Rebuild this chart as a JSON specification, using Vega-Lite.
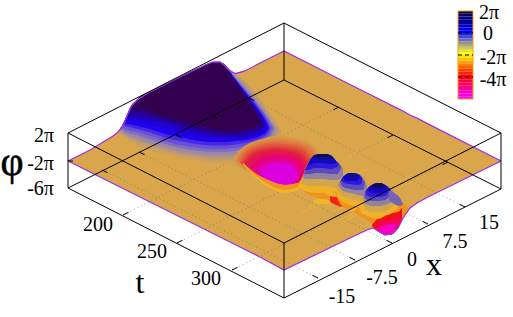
{"width":513,"height":317,"padding":0,"autosize":{"type":"fit","contains":"padding"},"background":"white","config":{"view":{"stroke":null}},
"resolve":{"scale":{"color":"independent"}},
"datasets":{
"surface":[{"g":"s","p":-2,"u":68,"v":161,"w":161},{"g":"s","p":-2,"u":90,"v":150,"w":172},{"g":"s","p":-2,"u":113,"v":136,"w":183.5},{"g":"s","p":-2,"u":118,"v":132,"w":186},{"g":"s","p":-2,"u":123,"v":126,"w":188.5},{"g":"s","p":-2,"u":127,"v":116,"w":190.5},{"g":"s","p":-2,"u":131,"v":107,"w":192.5},{"g":"s","p":-2,"u":137,"v":100,"w":195.5},{"g":"s","p":-2,"u":145,"v":95,"w":199.5},{"g":"s","p":-2,"u":150,"v":92,"w":202},{"g":"s","p":-2,"u":180,"v":77,"w":217},{"g":"s","p":-2,"u":205,"v":65,"w":229.5},{"g":"s","p":-2,"u":213,"v":62,"w":233.5},{"g":"s","p":-2,"u":220,"v":62,"w":237},{"g":"s","p":-2,"u":225,"v":66,"w":239.5},{"g":"s","p":-2,"u":231,"v":72,"w":242.5},{"g":"s","p":-2,"u":236,"v":73.5,"w":245},{"g":"s","p":-2,"u":245,"v":71,"w":249.5},{"g":"s","p":-2,"u":260,"v":63,"w":257},{"g":"s","p":-2,"u":284,"v":51,"w":270},{"g":"s","p":-2,"u":350,"v":84.5,"w":238},{"g":"s","p":-2,"u":367,"v":93,"w":230},{"g":"s","p":-2,"u":373,"v":96,"w":228},{"g":"s","p":-2,"u":380,"v":99.6,"w":232},{"g":"s","p":-2,"u":385,"v":102,"w":235},{"g":"s","p":-2,"u":392,"v":105.6,"w":234},{"g":"s","p":-2,"u":398,"v":108.7,"w":228},{"g":"s","p":-2,"u":403,"v":111,"w":218},{"g":"s","p":-2,"u":410,"v":115,"w":208},{"g":"s","p":-2,"u":417,"v":118.2,"w":203},{"g":"s","p":-2,"u":428,"v":123.8,"w":197},{"g":"s","p":-2,"u":501,"v":161,"w":161}],
"smooth":[
{"g":"a00","p":-1.75,"u":118,"v":132,"w":132},{"g":"a00","p":-1.75,"u":125,"v":122,"w":138},{"g":"a00","p":-1.75,"u":137,"v":100,"w":145},{"g":"a00","p":-1.75,"u":150,"v":92,"w":150},{"g":"a00","p":-1.75,"u":165,"v":84.5,"w":154},{"g":"a00","p":-1.75,"u":180,"v":77,"w":158},{"g":"a00","p":-1.75,"u":200,"v":67.5,"w":161},{"g":"a00","p":-1.75,"u":215,"v":62,"w":163},{"g":"a00","p":-1.75,"u":226,"v":67,"w":163},{"g":"a00","p":-1.75,"u":236,"v":74,"w":162},{"g":"a00","p":-1.75,"u":246,"v":82,"w":160},{"g":"a00","p":-1.75,"u":256,"v":93,"w":157},{"g":"a00","p":-1.75,"u":266,"v":107,"w":152},{"g":"a00","p":-1.75,"u":274,"v":118,"w":145},{"g":"a00","p":-1.75,"u":282,"v":132,"w":132},
{"g":"a01","p":-1.5,"u":118,"v":132,"w":132},{"g":"a01","p":-1.5,"u":125,"v":122,"w":136},{"g":"a01","p":-1.5,"u":137,"v":100,"w":142},{"g":"a01","p":-1.5,"u":150,"v":92,"w":147},{"g":"a01","p":-1.5,"u":165,"v":84.5,"w":151},{"g":"a01","p":-1.5,"u":180,"v":77,"w":155},{"g":"a01","p":-1.5,"u":200,"v":67.5,"w":158},{"g":"a01","p":-1.5,"u":215,"v":62,"w":160},{"g":"a01","p":-1.5,"u":225,"v":66,"w":160},{"g":"a01","p":-1.5,"u":235,"v":73,"w":160},{"g":"a01","p":-1.5,"u":245,"v":82,"w":158},{"g":"a01","p":-1.5,"u":255,"v":93,"w":155},{"g":"a01","p":-1.5,"u":265,"v":107,"w":150},{"g":"a01","p":-1.5,"u":272,"v":118,"w":143},{"g":"a01","p":-1.5,"u":280,"v":131,"w":131},
{"g":"a02","p":-1.25,"u":119,"v":130,"w":130},{"g":"a02","p":-1.25,"u":125,"v":122,"w":135},{"g":"a02","p":-1.25,"u":137,"v":100,"w":140},{"g":"a02","p":-1.25,"u":150,"v":92,"w":145},{"g":"a02","p":-1.25,"u":165,"v":84.5,"w":149},{"g":"a02","p":-1.25,"u":180,"v":77,"w":153},{"g":"a02","p":-1.25,"u":200,"v":67.5,"w":156},{"g":"a02","p":-1.25,"u":215,"v":62,"w":157.5},{"g":"a02","p":-1.25,"u":225,"v":66,"w":157.5},{"g":"a02","p":-1.25,"u":235,"v":75,"w":157},{"g":"a02","p":-1.25,"u":245,"v":84.5,"w":154.5},{"g":"a02","p":-1.25,"u":255,"v":96,"w":152},{"g":"a02","p":-1.25,"u":264,"v":108,"w":148},{"g":"a02","p":-1.25,"u":271,"v":119,"w":141.5},{"g":"a02","p":-1.25,"u":278,"v":130,"w":130},
{"g":"a03","p":-1,"u":120,"v":129,"w":129},{"g":"a03","p":-1,"u":125,"v":122,"w":134},{"g":"a03","p":-1,"u":137,"v":100,"w":138},{"g":"a03","p":-1,"u":150,"v":92,"w":143},{"g":"a03","p":-1,"u":165,"v":84.5,"w":147},{"g":"a03","p":-1,"u":180,"v":77,"w":151},{"g":"a03","p":-1,"u":200,"v":67.5,"w":154},{"g":"a03","p":-1,"u":215,"v":62,"w":155},{"g":"a03","p":-1,"u":224,"v":65,"w":155},{"g":"a03","p":-1,"u":235,"v":77,"w":154},{"g":"a03","p":-1,"u":245,"v":87,"w":151},{"g":"a03","p":-1,"u":255,"v":99,"w":149},{"g":"a03","p":-1,"u":263,"v":110,"w":146},{"g":"a03","p":-1,"u":270,"v":120,"w":140},{"g":"a03","p":-1,"u":276,"v":129,"w":129},
{"g":"a04","p":-0.75,"u":120,"v":128,"w":128},{"g":"a04","p":-0.75,"u":125,"v":122,"w":131.5},{"g":"a04","p":-0.75,"u":137,"v":100,"w":135},{"g":"a04","p":-0.75,"u":150,"v":92,"w":139.5},{"g":"a04","p":-0.75,"u":165,"v":84.5,"w":144},{"g":"a04","p":-0.75,"u":180,"v":77,"w":148},{"g":"a04","p":-0.75,"u":200,"v":67.5,"w":151},{"g":"a04","p":-0.75,"u":215,"v":62,"w":152},{"g":"a04","p":-0.75,"u":224,"v":65,"w":152},{"g":"a04","p":-0.75,"u":235,"v":77.5,"w":151},{"g":"a04","p":-0.75,"u":245,"v":88.5,"w":148.5},{"g":"a04","p":-0.75,"u":255,"v":100.5,"w":146},{"g":"a04","p":-0.75,"u":263,"v":111,"w":143},{"g":"a04","p":-0.75,"u":270,"v":121,"w":137.5},{"g":"a04","p":-0.75,"u":274,"v":128,"w":128},
{"g":"a05","p":-0.5,"u":121,"v":127,"w":127},{"g":"a05","p":-0.5,"u":125,"v":122,"w":129},{"g":"a05","p":-0.5,"u":137,"v":100,"w":132},{"g":"a05","p":-0.5,"u":150,"v":92,"w":136},{"g":"a05","p":-0.5,"u":165,"v":84.5,"w":141},{"g":"a05","p":-0.5,"u":180,"v":77,"w":145},{"g":"a05","p":-0.5,"u":200,"v":67.5,"w":148},{"g":"a05","p":-0.5,"u":215,"v":62,"w":149},{"g":"a05","p":-0.5,"u":223,"v":64,"w":149},{"g":"a05","p":-0.5,"u":235,"v":78,"w":148},{"g":"a05","p":-0.5,"u":245,"v":90,"w":146},{"g":"a05","p":-0.5,"u":255,"v":102,"w":143},{"g":"a05","p":-0.5,"u":263,"v":112,"w":140},{"g":"a05","p":-0.5,"u":269,"v":122,"w":135},{"g":"a05","p":-0.5,"u":272,"v":128,"w":128},
{"g":"a06","p":-0.25,"u":122,"v":125,"w":125},{"g":"a06","p":-0.25,"u":126,"v":119,"w":126},{"g":"a06","p":-0.25,"u":137,"v":100,"w":129},{"g":"a06","p":-0.25,"u":150,"v":92,"w":132.5},{"g":"a06","p":-0.25,"u":165,"v":84.5,"w":137.5},{"g":"a06","p":-0.25,"u":180,"v":77,"w":141},{"g":"a06","p":-0.25,"u":200,"v":67.5,"w":144.5},{"g":"a06","p":-0.25,"u":215,"v":62,"w":145.5},{"g":"a06","p":-0.25,"u":222,"v":63.5,"w":145.5},{"g":"a06","p":-0.25,"u":235,"v":78.5,"w":144.5},{"g":"a06","p":-0.25,"u":245,"v":91,"w":143},{"g":"a06","p":-0.25,"u":255,"v":103.5,"w":140.5},{"g":"a06","p":-0.25,"u":262,"v":113.5,"w":137.5},{"g":"a06","p":-0.25,"u":268,"v":123,"w":133},{"g":"a06","p":-0.25,"u":270,"v":128,"w":128},
{"g":"a07","p":0,"u":123,"v":124,"w":124},{"g":"a07","p":0,"u":127,"v":116,"w":124},{"g":"a07","p":0,"u":137,"v":100,"w":126},{"g":"a07","p":0,"u":150,"v":92,"w":129},{"g":"a07","p":0,"u":165,"v":84.5,"w":134},{"g":"a07","p":0,"u":180,"v":77,"w":137},{"g":"a07","p":0,"u":200,"v":67.5,"w":141},{"g":"a07","p":0,"u":215,"v":62,"w":142},{"g":"a07","p":0,"u":222,"v":63,"w":142},{"g":"a07","p":0,"u":235,"v":79,"w":141},{"g":"a07","p":0,"u":245,"v":92,"w":140},{"g":"a07","p":0,"u":255,"v":105,"w":138},{"g":"a07","p":0,"u":262,"v":115,"w":135},{"g":"a07","p":0,"u":267,"v":124,"w":131},{"g":"a07","p":0,"u":269,"v":128,"w":128},
{"g":"a08","p":0.25,"u":124,"v":122,"w":122},{"g":"a08","p":0.25,"u":128,"v":113,"w":121},{"g":"a08","p":0.25,"u":137,"v":100,"w":121.5},{"g":"a08","p":0.25,"u":150,"v":92,"w":124.5},{"g":"a08","p":0.25,"u":165,"v":84.5,"w":128.5},{"g":"a08","p":0.25,"u":180,"v":77,"w":132.5},{"g":"a08","p":0.25,"u":200,"v":67.5,"w":137},{"g":"a08","p":0.25,"u":215,"v":62,"w":139},{"g":"a08","p":0.25,"u":222,"v":63,"w":139.5},{"g":"a08","p":0.25,"u":235,"v":79.5,"w":139},{"g":"a08","p":0.25,"u":245,"v":93,"w":138},{"g":"a08","p":0.25,"u":255,"v":106.5,"w":135.5},{"g":"a08","p":0.25,"u":262,"v":116.5,"w":132.5},{"g":"a08","p":0.25,"u":266,"v":124,"w":128.5},
{"g":"a09","p":0.5,"u":125,"v":120,"w":120},{"g":"a09","p":0.5,"u":130,"v":108,"w":118},{"g":"a09","p":0.5,"u":137,"v":100,"w":117},{"g":"a09","p":0.5,"u":150,"v":92,"w":120},{"g":"a09","p":0.5,"u":165,"v":84.5,"w":123},{"g":"a09","p":0.5,"u":180,"v":77,"w":128},{"g":"a09","p":0.5,"u":200,"v":67.5,"w":133},{"g":"a09","p":0.5,"u":215,"v":62,"w":136},{"g":"a09","p":0.5,"u":222,"v":63,"w":137},{"g":"a09","p":0.5,"u":235,"v":80,"w":137},{"g":"a09","p":0.5,"u":245,"v":94,"w":136},{"g":"a09","p":0.5,"u":255,"v":108,"w":133},{"g":"a09","p":0.5,"u":262,"v":118,"w":130},{"g":"a09","p":0.5,"u":265,"v":124,"w":126},
{"g":"a10","p":0.75,"u":127,"v":117,"w":117},{"g":"a10","p":0.75,"u":130,"v":108,"w":116},{"g":"a10","p":0.75,"u":137,"v":100,"w":114.5},{"g":"a10","p":0.75,"u":150,"v":92,"w":117.5},{"g":"a10","p":0.75,"u":165,"v":84.5,"w":121},{"g":"a10","p":0.75,"u":180,"v":77,"w":126},{"g":"a10","p":0.75,"u":200,"v":67.5,"w":131},{"g":"a10","p":0.75,"u":215,"v":62,"w":134},{"g":"a10","p":0.75,"u":221.5,"v":63,"w":135},{"g":"a10","p":0.75,"u":234,"v":79.5,"w":135},{"g":"a10","p":0.75,"u":245,"v":94.5,"w":134},{"g":"a10","p":0.75,"u":255,"v":109,"w":131},{"g":"a10","p":0.75,"u":261.5,"v":119,"w":128},{"g":"a10","p":0.75,"u":264,"v":123.5,"w":124.5},
{"g":"a11","p":1,"u":128,"v":113,"w":113},{"g":"a11","p":1,"u":137,"v":100,"w":112},{"g":"a11","p":1,"u":150,"v":92,"w":115},{"g":"a11","p":1,"u":165,"v":84.5,"w":119},{"g":"a11","p":1,"u":180,"v":77,"w":124},{"g":"a11","p":1,"u":200,"v":67.5,"w":129},{"g":"a11","p":1,"u":215,"v":62,"w":132},{"g":"a11","p":1,"u":221,"v":63,"w":133},{"g":"a11","p":1,"u":233,"v":79,"w":133},{"g":"a11","p":1,"u":245,"v":95,"w":132},{"g":"a11","p":1,"u":255,"v":110,"w":129},{"g":"a11","p":1,"u":261,"v":120,"w":126},{"g":"a11","p":1,"u":263,"v":123,"w":123},
{"g":"a12","p":1.5,"u":130,"v":110,"w":110},{"g":"a12","p":1.5,"u":137,"v":100,"w":109.5},{"g":"a12","p":1.5,"u":150,"v":92,"w":112.5},{"g":"a12","p":1.5,"u":165,"v":84.5,"w":117},{"g":"a12","p":1.5,"u":180,"v":77,"w":121.5},{"g":"a12","p":1.5,"u":200,"v":67.5,"w":127},{"g":"a12","p":1.5,"u":215,"v":62,"w":130.5},{"g":"a12","p":1.5,"u":220.5,"v":62.5,"w":131.5},{"g":"a12","p":1.5,"u":232.5,"v":79,"w":131.5},{"g":"a12","p":1.5,"u":244,"v":94.5,"w":130.5},{"g":"a12","p":1.5,"u":254,"v":109.5,"w":128},{"g":"a12","p":1.5,"u":260,"v":119.5,"w":124.5},{"g":"a12","p":1.5,"u":262,"v":122,"w":122},
{"g":"a13","p":2,"u":131,"v":107,"w":107},{"g":"a13","p":2,"u":137,"v":100,"w":107},{"g":"a13","p":2,"u":150,"v":92,"w":110},{"g":"a13","p":2,"u":165,"v":84.5,"w":115},{"g":"a13","p":2,"u":180,"v":77,"w":119},{"g":"a13","p":2,"u":200,"v":67.5,"w":125},{"g":"a13","p":2,"u":215,"v":62,"w":129},{"g":"a13","p":2,"u":220,"v":62,"w":130},{"g":"a13","p":2,"u":232,"v":79,"w":130},{"g":"a13","p":2,"u":243,"v":94,"w":129},{"g":"a13","p":2,"u":253,"v":109,"w":127},{"g":"a13","p":2,"u":259,"v":119,"w":123},{"g":"a13","p":2,"u":261,"v":121,"w":121},
{"g":"b01","p":-2.2,"u":232,"v":161,"w":161},{"g":"b01","p":-2.2,"u":240,"v":150,"w":167},{"g":"b01","p":-2.2,"u":250,"v":143,"w":172},{"g":"b01","p":-2.2,"u":262,"v":139,"w":178},{"g":"b01","p":-2.2,"u":275,"v":136,"w":184},{"g":"b01","p":-2.2,"u":290,"v":137,"w":187},{"g":"b01","p":-2.2,"u":305,"v":140,"w":182},{"g":"b01","p":-2.2,"u":318,"v":150,"w":170},{"g":"b01","p":-2.2,"u":322,"v":160,"w":160},
{"g":"b02","p":-2.5,"u":235,"v":160.5,"w":160.5},{"g":"b02","p":-2.5,"u":242,"v":150,"w":167},{"g":"b02","p":-2.5,"u":252,"v":144,"w":173},{"g":"b02","p":-2.5,"u":263,"v":140.5,"w":179},{"g":"b02","p":-2.5,"u":275,"v":138.5,"w":184},{"g":"b02","p":-2.5,"u":290,"v":139.5,"w":186.5},{"g":"b02","p":-2.5,"u":305,"v":143,"w":181},{"g":"b02","p":-2.5,"u":316,"v":152,"w":170},{"g":"b02","p":-2.5,"u":320,"v":160.5,"w":160.5},
{"g":"b03","p":-2.8,"u":238,"v":160,"w":160},{"g":"b03","p":-2.8,"u":245,"v":150,"w":167},{"g":"b03","p":-2.8,"u":255,"v":145,"w":174},{"g":"b03","p":-2.8,"u":265,"v":142,"w":180},{"g":"b03","p":-2.8,"u":275,"v":141,"w":184.5},{"g":"b03","p":-2.8,"u":290,"v":142,"w":186},{"g":"b03","p":-2.8,"u":305,"v":146,"w":180},{"g":"b03","p":-2.8,"u":315,"v":155,"w":170},{"g":"b03","p":-2.8,"u":318,"v":161,"w":161},
{"g":"b04","p":-3.2,"u":239.5,"v":161.5,"w":161.5},{"g":"b04","p":-3.2,"u":247,"v":151,"w":169},{"g":"b04","p":-3.2,"u":257,"v":146.5,"w":175.5},{"g":"b04","p":-3.2,"u":267,"v":144,"w":181},{"g":"b04","p":-3.2,"u":275,"v":143.5,"w":184.2},{"g":"b04","p":-3.2,"u":290,"v":144.5,"w":186},{"g":"b04","p":-3.2,"u":305,"v":149,"w":179},{"g":"b04","p":-3.2,"u":313,"v":160,"w":167.5},{"g":"b04","p":-3.2,"u":315,"v":163,"w":163},
{"g":"b05","p":-3.5,"u":241,"v":163,"w":163},{"g":"b05","p":-3.5,"u":250,"v":152,"w":171},{"g":"b05","p":-3.5,"u":260,"v":148,"w":177},{"g":"b05","p":-3.5,"u":275,"v":146,"w":184},{"g":"b05","p":-3.5,"u":290,"v":147,"w":186},{"g":"b05","p":-3.5,"u":305,"v":152,"w":178},{"g":"b05","p":-3.5,"u":312,"v":165,"w":165},
{"g":"b06","p":-3.85,"u":242.5,"v":164,"w":164},{"g":"b06","p":-3.85,"u":251,"v":154,"w":171.5},{"g":"b06","p":-3.85,"u":261,"v":150,"w":177.5},{"g":"b06","p":-3.85,"u":275,"v":148,"w":184},{"g":"b06","p":-3.85,"u":290,"v":149.5,"w":185.7},{"g":"b06","p":-3.85,"u":303,"v":154.5,"w":178.5},{"g":"b06","p":-3.85,"u":310,"v":166.5,"w":166.5},
{"g":"b07","p":-4.2,"u":244,"v":165,"w":165},{"g":"b07","p":-4.2,"u":252,"v":156,"w":172},{"g":"b07","p":-4.2,"u":262,"v":152,"w":178},{"g":"b07","p":-4.2,"u":275,"v":150,"w":184},{"g":"b07","p":-4.2,"u":290,"v":152,"w":185.5},{"g":"b07","p":-4.2,"u":302,"v":157,"w":179},{"g":"b07","p":-4.2,"u":308,"v":168,"w":168},
{"g":"b08","p":-4.5,"u":247,"v":166.5,"w":166.5},{"g":"b08","p":-4.5,"u":255,"v":158,"w":174},{"g":"b08","p":-4.5,"u":265,"v":154,"w":179.5},{"g":"b08","p":-4.5,"u":277,"v":152.5,"w":184.5},{"g":"b08","p":-4.5,"u":290,"v":154.5,"w":185.2},{"g":"b08","p":-4.5,"u":301,"v":159,"w":180},{"g":"b08","p":-4.5,"u":306,"v":169.5,"w":169.5},
{"g":"b09","p":-4.8,"u":250,"v":168,"w":168},{"g":"b09","p":-4.8,"u":258,"v":160,"w":176},{"g":"b09","p":-4.8,"u":268,"v":156,"w":181},{"g":"b09","p":-4.8,"u":280,"v":155,"w":185},{"g":"b09","p":-4.8,"u":290,"v":157,"w":185},{"g":"b09","p":-4.8,"u":300,"v":161,"w":181},{"g":"b09","p":-4.8,"u":304,"v":171,"w":171},
{"g":"b10","p":-5.1,"u":252.5,"v":169.5,"w":169.5},{"g":"b10","p":-5.1,"u":260,"v":162,"w":177},{"g":"b10","p":-5.1,"u":270,"v":158.5,"w":182},{"g":"b10","p":-5.1,"u":281,"v":157.5,"w":185},{"g":"b10","p":-5.1,"u":291,"v":159.5,"w":185},{"g":"b10","p":-5.1,"u":300,"v":164.5,"w":180.5},{"g":"b10","p":-5.1,"u":302,"v":172.5,"w":172.5},
{"g":"b11","p":-5.4,"u":255,"v":171,"w":171},{"g":"b11","p":-5.4,"u":262,"v":164,"w":178},{"g":"b11","p":-5.4,"u":272,"v":161,"w":183},{"g":"b11","p":-5.4,"u":282,"v":160,"w":185},{"g":"b11","p":-5.4,"u":292,"v":162,"w":185},{"g":"b11","p":-5.4,"u":300,"v":174,"w":174},
{"g":"b12","p":-5.7,"u":258.5,"v":172.5,"w":172.5},{"g":"b12","p":-5.7,"u":266,"v":164.5,"w":180},{"g":"b12","p":-5.7,"u":276,"v":162.5,"w":183.7},{"g":"b12","p":-5.7,"u":286,"v":162,"w":184.7},{"g":"b12","p":-5.7,"u":291,"v":164,"w":184.7},{"g":"b12","p":-5.7,"u":298.5,"v":175,"w":175},
{"g":"b13","p":-6,"u":262,"v":174,"w":174},{"g":"b13","p":-6,"u":270,"v":165,"w":182},{"g":"b13","p":-6,"u":280,"v":164,"w":184.5},{"g":"b13","p":-6,"u":290,"v":166,"w":184.5},{"g":"b13","p":-6,"u":297,"v":176,"w":176}
],
"ridges":[
{"g":"c1","p":-2.05,"u":243,"v":163,"w":165},{"g":"c1","p":-2.05,"u":255,"v":173,"w":177},{"g":"c1","p":-2.05,"u":268,"v":180,"w":187},{"g":"c1","p":-2.05,"u":285,"v":185,"w":193},{"g":"c1","p":-2.05,"u":298,"v":183,"w":190},{"g":"c1","p":-2.05,"u":303,"v":176,"w":180},
{"g":"c2","p":-2.7,"u":245,"v":165,"w":166},{"g":"c2","p":-2.7,"u":255,"v":173,"w":175},{"g":"c2","p":-2.7,"u":268,"v":180,"w":184},{"g":"c2","p":-2.7,"u":285,"v":185,"w":190},{"g":"c2","p":-2.7,"u":298,"v":183,"w":187},{"g":"c2","p":-2.7,"u":303,"v":176,"w":178},
{"g":"d01","p":-2.7,"u":300,"v":186,"w":186},{"g":"d01","p":-2.7,"u":305,"v":170,"w":192},{"g":"d01","p":-2.7,"u":310,"v":160,"w":195},{"g":"d01","p":-2.7,"u":315,"v":155,"w":197},{"g":"d01","p":-2.7,"u":323,"v":154,"w":199},{"g":"d01","p":-2.7,"u":330,"v":155,"w":202},{"g":"d01","p":-2.7,"u":337,"v":162,"w":205},{"g":"d01","p":-2.7,"u":345,"v":168,"w":207},{"g":"d01","p":-2.7,"u":350,"v":173,"w":205},
{"g":"d02","p":-3.8,"u":330,"v":196,"w":202},{"g":"d02","p":-3.8,"u":336,"v":196,"w":205},{"g":"d02","p":-3.8,"u":344,"v":197,"w":207},{"g":"d02","p":-3.8,"u":348,"v":199,"w":205},
{"g":"d03","p":-2.15,"u":298,"v":187,"w":187},{"g":"d03","p":-2.15,"u":303,"v":177,"w":190},{"g":"d03","p":-2.15,"u":308,"v":165,"w":192},{"g":"d03","p":-2.15,"u":315,"v":155,"w":193},{"g":"d03","p":-2.15,"u":323,"v":154,"w":193},{"g":"d03","p":-2.15,"u":330,"v":155,"w":196},{"g":"d03","p":-2.15,"u":337,"v":162,"w":197},{"g":"d03","p":-2.15,"u":345,"v":168,"w":197},{"g":"d03","p":-2.15,"u":350,"v":173,"w":193},
{"g":"d04","p":-1.7,"u":301,"v":183,"w":183},{"g":"d04","p":-1.7,"u":305,"v":172,"w":185},{"g":"d04","p":-1.7,"u":310,"v":160,"w":186},{"g":"d04","p":-1.7,"u":315,"v":155,"w":186},{"g":"d04","p":-1.7,"u":323,"v":154,"w":186},{"g":"d04","p":-1.7,"u":330,"v":155,"w":187},{"g":"d04","p":-1.7,"u":337,"v":162,"w":188},{"g":"d04","p":-1.7,"u":344,"v":168,"w":186},{"g":"d04","p":-1.7,"u":348,"v":172,"w":172},
{"g":"d05","p":-1.1,"u":303,"v":177,"w":177},{"g":"d05","p":-1.1,"u":306,"v":168,"w":179},{"g":"d05","p":-1.1,"u":310,"v":160,"w":179},{"g":"d05","p":-1.1,"u":315,"v":155,"w":179},{"g":"d05","p":-1.1,"u":323,"v":154,"w":179},{"g":"d05","p":-1.1,"u":330,"v":155,"w":180},{"g":"d05","p":-1.1,"u":337,"v":162,"w":180},{"g":"d05","p":-1.1,"u":343,"v":168,"w":176},
{"g":"d06","p":-0.6,"u":304,"v":174,"w":174},{"g":"d06","p":-0.6,"u":307,"v":166,"w":174},{"g":"d06","p":-0.6,"u":310,"v":160,"w":174},{"g":"d06","p":-0.6,"u":315,"v":155,"w":173},{"g":"d06","p":-0.6,"u":323,"v":154,"w":173},{"g":"d06","p":-0.6,"u":330,"v":155,"w":174},{"g":"d06","p":-0.6,"u":337,"v":162,"w":174},{"g":"d06","p":-0.6,"u":341,"v":166,"w":168},
{"g":"d07","p":-0.2,"u":305,"v":170,"w":170},{"g":"d07","p":-0.2,"u":308,"v":164,"w":170},{"g":"d07","p":-0.2,"u":315,"v":155,"w":168},{"g":"d07","p":-0.2,"u":323,"v":154,"w":168},{"g":"d07","p":-0.2,"u":330,"v":155,"w":169},{"g":"d07","p":-0.2,"u":337,"v":162,"w":167},{"g":"d07","p":-0.2,"u":339,"v":164,"w":164},
{"g":"d08","p":0.4,"u":307,"v":166,"w":166},{"g":"d08","p":0.4,"u":310,"v":160,"w":165},{"g":"d08","p":0.4,"u":315,"v":155,"w":163},{"g":"d08","p":0.4,"u":323,"v":154,"w":163},{"g":"d08","p":0.4,"u":330,"v":155,"w":164},{"g":"d08","p":0.4,"u":336,"v":161,"w":163},
{"g":"d09","p":1,"u":310,"v":160,"w":160},{"g":"d09","p":1,"u":315,"v":155,"w":159},{"g":"d09","p":1,"u":323,"v":154,"w":159},{"g":"d09","p":1,"u":330,"v":155,"w":160},{"g":"d09","p":1,"u":334,"v":159,"w":160},
{"g":"d10","p":1.6,"u":314,"v":156,"w":156},{"g":"d10","p":1.6,"u":318,"v":154.5,"w":157},{"g":"d10","p":1.6,"u":323,"v":154,"w":157},{"g":"d10","p":1.6,"u":329,"v":155,"w":157},
{"g":"d11","p":-2,"u":313,"v":201,"w":201},{"g":"d11","p":-2,"u":318,"v":199,"w":204},{"g":"d11","p":-2,"u":325,"v":199,"w":204},{"g":"d11","p":-2,"u":331,"v":202,"w":205},
{"g":"e01","p":-2.7,"u":335,"v":192,"w":192},{"g":"e01","p":-2.7,"u":338,"v":186,"w":200},{"g":"e01","p":-2.7,"u":343,"v":177,"w":207},{"g":"e01","p":-2.7,"u":350,"v":173,"w":211},{"g":"e01","p":-2.7,"u":358,"v":174,"w":214},{"g":"e01","p":-2.7,"u":365,"v":181,"w":218},{"g":"e01","p":-2.7,"u":372,"v":187,"w":222},{"g":"e01","p":-2.7,"u":378,"v":195,"w":222},
{"g":"e02","p":-2.15,"u":336,"v":190,"w":190},{"g":"e02","p":-2.15,"u":338,"v":186,"w":197},{"g":"e02","p":-2.15,"u":343,"v":177,"w":202},{"g":"e02","p":-2.15,"u":350,"v":173,"w":205},{"g":"e02","p":-2.15,"u":358,"v":174,"w":208},{"g":"e02","p":-2.15,"u":365,"v":181,"w":212},{"g":"e02","p":-2.15,"u":372,"v":189,"w":212},
{"g":"e03","p":-1.7,"u":337,"v":188,"w":188},{"g":"e03","p":-1.7,"u":340,"v":182,"w":194},{"g":"e03","p":-1.7,"u":344,"v":176,"w":197},{"g":"e03","p":-1.7,"u":350,"v":173,"w":199},{"g":"e03","p":-1.7,"u":358,"v":174,"w":201},{"g":"e03","p":-1.7,"u":365,"v":181,"w":203},{"g":"e03","p":-1.7,"u":369,"v":187,"w":201},
{"g":"e04","p":-1.1,"u":338,"v":185,"w":185},{"g":"e04","p":-1.1,"u":341,"v":180,"w":189},{"g":"e04","p":-1.1,"u":345,"v":175,"w":192},{"g":"e04","p":-1.1,"u":350,"v":173,"w":193},{"g":"e04","p":-1.1,"u":358,"v":174,"w":195},{"g":"e04","p":-1.1,"u":365,"v":181,"w":196},{"g":"e04","p":-1.1,"u":367,"v":186,"w":190},
{"g":"e05","p":-0.6,"u":340,"v":182,"w":182},{"g":"e05","p":-0.6,"u":342,"v":178,"w":186},{"g":"e05","p":-0.6,"u":346,"v":175,"w":188},{"g":"e05","p":-0.6,"u":350,"v":173,"w":189},{"g":"e05","p":-0.6,"u":358,"v":174,"w":190},{"g":"e05","p":-0.6,"u":363,"v":179,"w":190},{"g":"e05","p":-0.6,"u":365,"v":183,"w":183},
{"g":"e06","p":-0.2,"u":341,"v":180,"w":180},{"g":"e06","p":-0.2,"u":344,"v":176,"w":183},{"g":"e06","p":-0.2,"u":350,"v":173,"w":184},{"g":"e06","p":-0.2,"u":358,"v":174,"w":185},{"g":"e06","p":-0.2,"u":362,"v":178,"w":183},
{"g":"e07","p":0.4,"u":343,"v":177,"w":177},{"g":"e07","p":0.4,"u":346,"v":174.5,"w":181},{"g":"e07","p":0.4,"u":350,"v":173,"w":181},{"g":"e07","p":0.4,"u":356,"v":173.5,"w":181},{"g":"e07","p":0.4,"u":360,"v":176,"w":177},
{"g":"e08","p":1,"u":346,"v":174.5,"w":174.5},{"g":"e08","p":1,"u":350,"v":173,"w":177},{"g":"e08","p":1,"u":355,"v":173.5,"w":178},{"g":"e08","p":1,"u":358,"v":175,"w":175},
{"g":"e09","p":-2,"u":350,"v":209,"w":211},{"g":"e09","p":-2,"u":356,"v":208,"w":213},{"g":"e09","p":-2,"u":363,"v":209,"w":215},
{"g":"f01","p":-2.7,"u":352,"v":212,"w":212},{"g":"f01","p":-2.7,"u":360,"v":205,"w":216},{"g":"f01","p":-2.7,"u":365,"v":193,"w":219},{"g":"f01","p":-2.7,"u":372,"v":185,"w":224},{"g":"f01","p":-2.7,"u":378,"v":183,"w":229},{"g":"f01","p":-2.7,"u":385,"v":185,"w":234},{"g":"f01","p":-2.7,"u":392,"v":190,"w":234},{"g":"f01","p":-2.7,"u":398,"v":196,"w":228},{"g":"f01","p":-2.7,"u":403,"v":203,"w":218},{"g":"f01","p":-2.7,"u":408,"v":207,"w":209},
{"g":"f02","p":-4,"u":372,"v":225,"w":226},{"g":"f02","p":-4,"u":378,"v":218,"w":231},{"g":"f02","p":-4,"u":385,"v":214,"w":235},{"g":"f02","p":-4,"u":392,"v":213,"w":234},{"g":"f02","p":-4,"u":398,"v":212,"w":228},{"g":"f02","p":-4,"u":402,"v":208,"w":219},
{"g":"f03","p":-4.6,"u":377,"v":224,"w":231},{"g":"f03","p":-4.6,"u":383,"v":221,"w":234},{"g":"f03","p":-4.6,"u":390,"v":220,"w":235},{"g":"f03","p":-4.6,"u":396,"v":218,"w":230},{"g":"f03","p":-4.6,"u":400,"v":214,"w":222},
{"g":"f04","p":-5.5,"u":379,"v":228,"w":232},{"g":"f04","p":-5.5,"u":385,"v":225,"w":234.5},{"g":"f04","p":-5.5,"u":392,"v":224,"w":234},{"g":"f04","p":-5.5,"u":396,"v":223,"w":229},
{"g":"f05","p":-2.15,"u":358,"v":204,"w":204},{"g":"f05","p":-2.15,"u":362,"v":200,"w":214},{"g":"f05","p":-2.15,"u":365,"v":193,"w":215},{"g":"f05","p":-2.15,"u":372,"v":185,"w":218},{"g":"f05","p":-2.15,"u":378,"v":183,"w":219},{"g":"f05","p":-2.15,"u":385,"v":185,"w":216},{"g":"f05","p":-2.15,"u":392,"v":190,"w":213},{"g":"f05","p":-2.15,"u":398,"v":196,"w":207},{"g":"f05","p":-2.15,"u":401,"v":200,"w":200},
{"g":"f06","p":-1.7,"u":362,"v":200,"w":200},{"g":"f06","p":-1.7,"u":365,"v":193,"w":209},{"g":"f06","p":-1.7,"u":372,"v":185,"w":212},{"g":"f06","p":-1.7,"u":378,"v":183,"w":212},{"g":"f06","p":-1.7,"u":385,"v":185,"w":211},{"g":"f06","p":-1.7,"u":392,"v":190,"w":207},{"g":"f06","p":-1.7,"u":398,"v":197,"w":200},
{"g":"f07","p":-1.1,"u":363,"v":197,"w":197},{"g":"f07","p":-1.1,"u":366,"v":192,"w":204},{"g":"f07","p":-1.1,"u":372,"v":185,"w":206},{"g":"f07","p":-1.1,"u":378,"v":183,"w":206},{"g":"f07","p":-1.1,"u":385,"v":185,"w":205},{"g":"f07","p":-1.1,"u":392,"v":190,"w":201},{"g":"f07","p":-1.1,"u":396,"v":195,"w":195},
{"g":"f08","p":-0.6,"u":364,"v":195,"w":195},{"g":"f08","p":-0.6,"u":367,"v":190,"w":200},{"g":"f08","p":-0.6,"u":372,"v":185,"w":201},{"g":"f08","p":-0.6,"u":378,"v":183,"w":201},{"g":"f08","p":-0.6,"u":385,"v":185,"w":200},{"g":"f08","p":-0.6,"u":391,"v":189,"w":195},
{"g":"f09","p":-0.8,"u":389,"v":190,"w":200},{"g":"f09","p":-0.8,"u":394,"v":193,"w":204},{"g":"f09","p":-0.8,"u":400,"v":198,"w":206},{"g":"f09","p":-0.8,"u":403,"v":204,"w":204},
{"g":"f10","p":-0.2,"u":365,"v":192,"w":192},{"g":"f10","p":-0.2,"u":368,"v":188,"w":196},{"g":"f10","p":-0.2,"u":372,"v":185,"w":197},{"g":"f10","p":-0.2,"u":378,"v":183,"w":197},{"g":"f10","p":-0.2,"u":385,"v":185,"w":196},{"g":"f10","p":-0.2,"u":390,"v":189,"w":190},
{"g":"f11","p":0.3,"u":367,"v":189,"w":189},{"g":"f11","p":0.3,"u":372,"v":185,"w":193},{"g":"f11","p":0.3,"u":378,"v":183,"w":193},{"g":"f11","p":0.3,"u":385,"v":185,"w":192},{"g":"f11","p":0.3,"u":388,"v":187,"w":187},
{"g":"f12","p":0.8,"u":369,"v":187,"w":187},{"g":"f12","p":0.8,"u":373,"v":184.5,"w":190},{"g":"f12","p":0.8,"u":378,"v":183,"w":190},{"g":"f12","p":0.8,"u":385,"v":185,"w":189},{"g":"f12","p":0.8,"u":387,"v":186.5,"w":186.5},
{"g":"f13","p":1.5,"u":372,"v":185,"w":185},{"g":"f13","p":1.5,"u":375,"v":184,"w":187.5},{"g":"f13","p":1.5,"u":380,"v":183,"w":188},{"g":"f13","p":1.5,"u":384,"v":184.5,"w":186}
],
"streaks":[{"u":308,"v":207,"u2":320,"w":200},{"u":345,"v":158,"u2":358,"w":152},{"u":355,"v":175,"u2":370,"w":168},{"u":397,"v":183,"u2":412,"w":175},{"u":393,"v":190,"u2":412,"w":182},{"u":340,"v":220,"u2":360,"w":210},{"u":343,"v":222,"u2":357,"w":215},{"u":300,"v":214,"u2":315,"w":206},{"u":330,"v":213,"u2":345,"w":206},{"u":340,"v":162,"u2":352,"w":156}],
"bar":[{"p":-6,"u":458,"u2":473,"v":99,"w":96.25},{"p":-5.75,"u":458,"u2":473,"v":96.25,"w":93.5},{"p":-5.5,"u":458,"u2":473,"v":93.5,"w":90.75},{"p":-5.25,"u":458,"u2":473,"v":90.75,"w":88},{"p":-5,"u":458,"u2":473,"v":88,"w":85.25},{"p":-4.75,"u":458,"u2":473,"v":85.25,"w":82.5},{"p":-4.5,"u":458,"u2":473,"v":82.5,"w":79.75},{"p":-4.25,"u":458,"u2":473,"v":79.75,"w":77},{"p":-4,"u":458,"u2":473,"v":77,"w":74.25},{"p":-3.75,"u":458,"u2":473,"v":74.25,"w":71.5},{"p":-3.5,"u":458,"u2":473,"v":71.5,"w":68.75},{"p":-3.25,"u":458,"u2":473,"v":68.75,"w":66},{"p":-3,"u":458,"u2":473,"v":66,"w":63.25},{"p":-2.75,"u":458,"u2":473,"v":63.25,"w":60.5},{"p":-2.5,"u":458,"u2":473,"v":60.5,"w":57.75},{"p":-2.25,"u":458,"u2":473,"v":57.75,"w":55},{"p":-2,"u":458,"u2":473,"v":55,"w":52.25},{"p":-1.75,"u":458,"u2":473,"v":52.25,"w":49.5},{"p":-1.5,"u":458,"u2":473,"v":49.5,"w":46.75},{"p":-1.25,"u":458,"u2":473,"v":46.75,"w":44},{"p":-1,"u":458,"u2":473,"v":44,"w":41.25},{"p":-0.75,"u":458,"u2":473,"v":41.25,"w":38.5},{"p":-0.5,"u":458,"u2":473,"v":38.5,"w":35.75},{"p":-0.25,"u":458,"u2":473,"v":35.75,"w":33},{"p":0,"u":458,"u2":473,"v":33,"w":30.25},{"p":0.25,"u":458,"u2":473,"v":30.25,"w":27.5},{"p":0.5,"u":458,"u2":473,"v":27.5,"w":24.75},{"p":0.75,"u":458,"u2":473,"v":24.75,"w":22},{"p":1,"u":458,"u2":473,"v":22,"w":19.25},{"p":1.25,"u":458,"u2":473,"v":19.25,"w":16.5},{"p":1.5,"u":458,"u2":473,"v":16.5,"w":13.75},{"p":1.75,"u":458,"u2":473,"v":13.75,"w":11}],
"box":[{"u":68,"v":188,"u2":284,"w":298},{"u":284,"v":298,"u2":501,"w":189},{"u":68,"v":188,"u2":284,"w":80},{"u":284,"v":80,"u2":501,"w":189},{"u":68,"v":133,"u2":284,"w":23},{"u":284,"v":23,"u2":501,"w":133},{"u":68,"v":133,"u2":284,"w":243},{"u":284,"v":243,"u2":501,"w":133},{"u":68,"v":133,"u2":68,"w":188},{"u":284,"v":23,"u2":284,"w":80},{"u":501,"v":133,"u2":501,"w":189},{"u":284,"v":243,"u2":284,"w":298},
{"u":123,"v":215,"u2":128.5,"w":212.3},{"u":339,"v":107,"u2":333.5,"w":109.7},{"u":177,"v":243,"u2":182.5,"w":240.3},{"u":393,"v":135,"u2":387.5,"w":137.7},{"u":232,"v":270,"u2":237.5,"w":267.3},{"u":448,"v":162,"u2":442.5,"w":164.7},
{"u":318,"v":278,"u2":312.5,"w":275.3},{"u":102,"v":170,"u2":107.5,"w":172.7},{"u":355,"v":260,"u2":349.5,"w":257.3},{"u":139,"v":152,"u2":144.5,"w":154.7},{"u":392,"v":243,"u2":386.5,"w":240.3},{"u":176,"v":135,"u2":181.5,"w":137.7},{"u":428,"v":224,"u2":422.5,"w":221.3},{"u":212,"v":116,"u2":217.5,"w":118.7},{"u":465,"v":207,"u2":459.5,"w":204.3},{"u":249,"v":98,"u2":254.5,"w":100.7},
{"u":68,"v":161,"u2":73,"w":161}],
"grid":[{"u":123,"v":215,"u2":339,"w":107},{"u":177,"v":243,"u2":393,"w":135},{"u":232,"v":270,"u2":448,"w":162},{"u":318,"v":278,"u2":102,"w":170},{"u":355,"v":260,"u2":139,"w":152},{"u":392,"v":243,"u2":176,"w":135},{"u":428,"v":224,"u2":212,"w":116},{"u":465,"v":207,"u2":249,"w":98}],
"dash":[{"u":458,"v":33,"u2":473,"w":33},{"u":458,"v":55,"u2":473,"w":55},{"u":458,"v":77,"u2":473,"w":77}],
"frame":[{"u":458,"v":11,"u2":473,"w":99}],
"labels":[{"u":44,"v":136,"s":"2π"},{"u":40.5,"v":164,"s":"-2π"},{"u":40.5,"v":189,"s":"-6π"},{"u":98,"v":225,"s":"200"},{"u":152,"v":252,"s":"250"},{"u":206,"v":279,"s":"300"},{"u":342,"v":297,"s":"-15"},{"u":382,"v":278,"s":"-7.5"},{"u":412,"v":260,"s":"0"},{"u":455,"v":242,"s":"7.5"},{"u":489,"v":223,"s":"15"},{"u":489,"v":13,"s":"2π"},{"u":488,"v":34,"s":"0"},{"u":493,"v":58,"s":"-2π"},{"u":493,"v":80,"s":"-4π"}],
"titles":[{"u":140,"v":283,"s":"t"},{"u":434,"v":265,"s":"x"}],
"phi":[{"u":12,"v":163,"s":"φ"}]
},
"encoding":{"x":{"field":"u","type":"quantitative","scale":{"domain":[0,513],"nice":false,"zero":false},"axis":null},"y":{"field":"v","type":"quantitative","scale":{"domain":[317,0],"nice":false,"zero":false},"axis":null}},
"layer":[
{"data":{"name":"surface"},"mark":{"type":"area","fill":"#d9a64c","stroke":null},"encoding":{"y2":{"field":"w"}}},
{"data":{"name":"grid"},"mark":{"type":"rule","color":"#6a6a6a","opacity":0.65,"strokeWidth":1,"strokeDash":[1,3]},"encoding":{"x2":{"field":"u2"},"y2":{"field":"w"}}},
{"data":{"name":"streaks"},"mark":{"type":"rule","color":"#f0c030","opacity":0.55,"strokeWidth":1},"encoding":{"x2":{"field":"u2"},"y2":{"field":"w"}}},
{"data":{"name":"smooth"},"mark":{"type":"area","interpolate":"monotone"},"encoding":{"y2":{"field":"w"},"detail":{"field":"g"},"color":{"field":"p","type":"quantitative","legend":null,"scale":{"domain":[-6,-5,-4,-3,-2,-1.5,-1,-0.5,0,0.5,1,2],"range":["#dc00e0","#e6007a","#e0203a","#e0683c","#d9a64c","#c09a70","#9a88a8","#6a50d8","#2000f0","#2200b4","#2a0078","#330050"],"interpolate":"rgb"}}}},
{"data":{"name":"ridges"},"mark":{"type":"area","interpolate":"monotone"},"encoding":{"y2":{"field":"w"},"detail":{"field":"g"},"color":{"field":"p","type":"quantitative","legend":null,"scale":{"domain":[-6,-5,-4,-3,-2,-1,0,1,2],"range":["#ff00ff","#f00080","#f01010","#f08020","#f0b828","#8a7ca8","#1800e8","#10108a","#0a0a30"],"interpolate":"rgb"}}}},
{"data":{"name":"bar"},"mark":{"type":"rect"},"encoding":{"x2":{"field":"u2"},"y2":{"field":"w"},"color":{"field":"p","type":"quantitative","legend":null,"scale":{"domain":[-6,-5,-4,-3,-2,-1,0,1,2],"range":["#ff00ff","#ff0080","#ff0000","#ff8000","#ffff00","#9090a0","#0000ff","#000090","#0a0a30"],"interpolate":"rgb"}}}},
{"data":{"name":"frame"},"mark":{"type":"rect","fill":null,"stroke":"#f0a010","strokeWidth":1},"encoding":{"x2":{"field":"u2"},"y2":{"field":"w"}}},
{"data":{"name":"dash"},"mark":{"type":"rule","color":"black","strokeDash":[4,3],"strokeWidth":1},"encoding":{"x2":{"field":"u2"},"y2":{"field":"w"}}},
{"data":{"name":"surface"},"mark":{"type":"line","color":"#a030e0","strokeWidth":1.3},"encoding":{}},
{"data":{"name":"surface"},"mark":{"type":"line","color":"#a030e0","strokeWidth":1.3},"encoding":{"y":{"field":"w","type":"quantitative"}}},
{"data":{"name":"box"},"mark":{"type":"rule","color":"black","strokeWidth":1},"encoding":{"x2":{"field":"u2"},"y2":{"field":"w"}}},
{"data":{"name":"labels"},"mark":{"type":"text","font":"Liberation Serif","fontSize":20,"color":"black","align":"center","baseline":"middle"},"encoding":{"text":{"field":"s"}}},
{"data":{"name":"titles"},"mark":{"type":"text","font":"Liberation Serif","fontSize":32,"color":"black","align":"center","baseline":"middle"},"encoding":{"text":{"field":"s"}}},
{"data":{"name":"phi"},"mark":{"type":"text","font":"Liberation Serif","fontSize":40,"color":"black","stroke":"black","strokeWidth":0.6,"align":"center","baseline":"middle"},"encoding":{"text":{"field":"s"}}}
]}
